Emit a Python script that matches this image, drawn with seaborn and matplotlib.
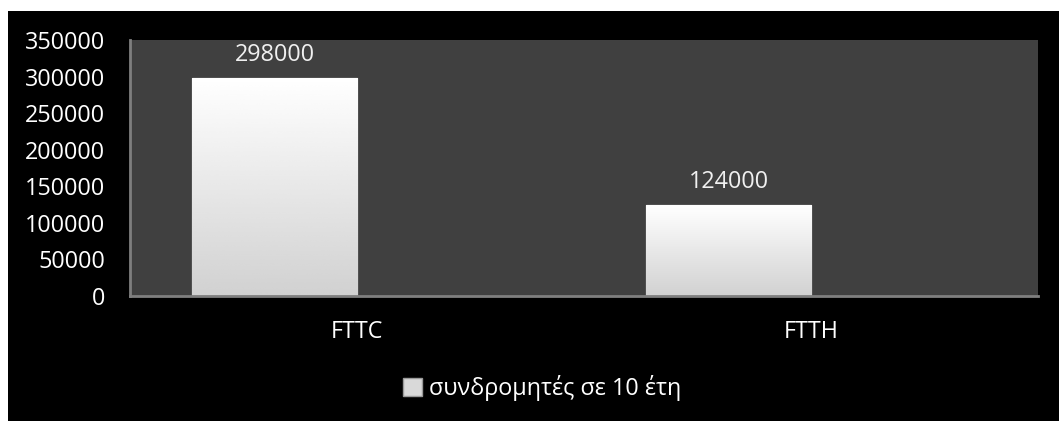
import numpy as np
import pandas as pd
import matplotlib
matplotlib.use("Agg")
import matplotlib.pyplot as plt
from matplotlib.patches import Rectangle, Patch
import seaborn as sns

# Subscriber counts after 10 years, per access technology
categories = ["FTTC", "FTTH"]
subscribers = [298000, 124000]
series_name = "συνδρομητές σε 10 έτη"
y_ticks = [0, 50000, 100000, 150000, 200000, 250000, 300000, 350000]

df = pd.DataFrame({"tech": categories, "value": subscribers, "series": series_name})

sns.set_theme(style="dark")
plt.rcParams["font.family"] = ["Open Sans", "DejaVu Sans"]

FS = 16.8
W, H, DPI = 1059, 421, 100
fig = plt.figure(figsize=(W / DPI, H / DPI), dpi=DPI)
fig.patch.set_facecolor("white")
# black chart area with a thin white margin on the top and left
fig.add_artist(Rectangle((8 / W, 0), 1 - 8 / W, 1 - 11 / H, transform=fig.transFigure,
                         facecolor="black", edgecolor="none", zorder=0))

ax = fig.add_axes([130 / W, 1 - 296 / H, (1038 - 130) / W, (296 - 40) / H])
ax.set_facecolor("#404040")

# second (empty) slot keeps the bar on the left half of each category
sns.barplot(data=df, x="tech", y="value", hue="series",
            hue_order=[series_name, " "], palette=["#f2f2f2", "#f2f2f2"],
            width=0.727, dodge=True, ax=ax, legend=False,
            edgecolor="#9a9a9a", linewidth=1.0, errorbar=None)

# soft vertical gradient inside each bar
grad = np.linspace(1.0, 0.82, 256).reshape(-1, 1)
for bar in ax.patches:
    h = bar.get_height()
    if not np.isfinite(h) or h <= 0:
        continue
    x0, w = bar.get_x(), bar.get_width()
    im = ax.imshow(grad, cmap="gray", vmin=0, vmax=1, aspect="auto",
                   extent=(x0, x0 + w, 0, h), zorder=bar.get_zorder() + 0.1,
                   interpolation="bicubic")
    im.set_clip_path(bar)

ax.set_xlim(-0.5, 1.5)
ax.set_ylim(0, 350000)
ax.set_yticks(y_ticks)
ax.set_yticklabels([str(v) for v in y_ticks])

for c in ax.containers:
    ax.bar_label(c, labels=[f"{int(v)}" for v in c.datavalues], padding=8,
                 color="#f0f0f0", fontsize=FS)

ax.set_xlabel("")
ax.set_ylabel("")
ax.grid(False)
ax.tick_params(axis="both", length=0, colors="white", labelsize=FS)
ax.tick_params(axis="y", pad=18)
ax.tick_params(axis="x", pad=17)
for side in ["top", "right"]:
    ax.spines[side].set_visible(False)
for side in ["left", "bottom"]:
    ax.spines[side].set_visible(True)
    ax.spines[side].set_color("#7f7f7f")
    ax.spines[side].set_linewidth(2)

handle = Patch(facecolor="#d9d9d9", edgecolor="#9a9a9a")
fig.legend([handle], [series_name], loc="center", bbox_to_anchor=(542 / W, 1 - 388 / H),
           frameon=False, fontsize=FS, labelcolor="white",
           handlelength=0.8, handleheight=0.8, handletextpad=0.3)

fig.savefig("out.png", dpi=DPI, facecolor=fig.get_facecolor())
